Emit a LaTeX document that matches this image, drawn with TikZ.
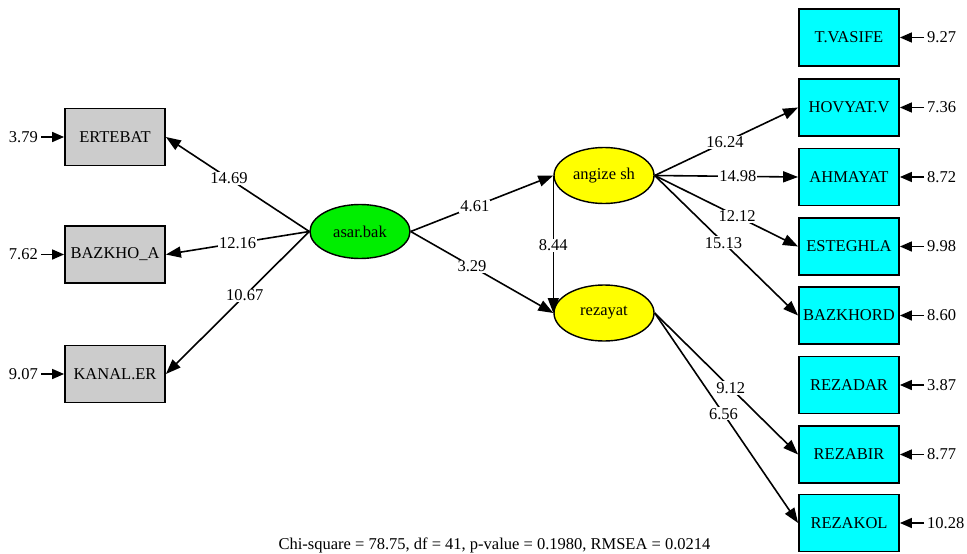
\documentclass[tikz,border=0pt]{standalone}
\usepackage{fontspec}
\setmainfont{Liberation Serif}
\usetikzlibrary{arrows.meta,shapes.geometric}
\definecolor{boxgray}{RGB}{204,204,204}
\definecolor{boxcyan}{RGB}{0,255,255}
\definecolor{latgreen}{RGB}{0,238,0}
\definecolor{latyellow}{RGB}{255,255,0}
\newcommand{\labfont}{\fontsize{16.5}{19}\selectfont}
\tikzset{
  obsbox/.style={draw=black, line width=1.8pt, minimum width=100pt, minimum height=57pt, inner sep=0pt, font=\labfont},
  latent/.style={ellipse, draw=black, line width=1.4pt, minimum width=100pt, minimum height=54pt, inner sep=0pt, font=\labfont},
  errlab/.style={inner sep=2pt, font=\labfont},
  edgelab/.style={fill=white, inner sep=1pt, font=\labfont},
  path/.style={line width=1.6pt, -{Triangle[length=15pt,width=11pt]}},
  errarrow/.style={line width=1.6pt, -{Triangle[length=12pt,width=10pt]}, shorten <=1pt}
}
\begin{document}
\begin{tikzpicture}[x=1pt,y=-1pt]
\useasboundingbox (0,0) rectangle (967,554);
% left observed
\node[obsbox, fill=boxgray] (ert) at (115,137) {ERTEBAT};
\node[obsbox, fill=boxgray] (baz) at (115,254.5) {BAZKHO\_A};
\node[obsbox, fill=boxgray] (kan) at (115,374) {KANAL.ER};
% latents
\node[latent, fill=latgreen] (asar) at (360,231.5) {asar.bak};
\node[latent, fill=latyellow, minimum height=56pt] (ang) at (604,175.5) {angize sh};
\node[latent, fill=latyellow, minimum height=56pt] (rez) at (604,313) {rezayat};
% right observed
\node[obsbox, fill=boxcyan] (tva) at (849,37.5) {T.VASIFE};
\node[obsbox, fill=boxcyan] (hov) at (849,107.5) {HOVYAT.V};
\node[obsbox, fill=boxcyan] (ahm) at (849,177) {AHMAYAT};
\node[obsbox, fill=boxcyan] (est) at (849,246.5) {ESTEGHLA};
\node[obsbox, fill=boxcyan] (bzk) at (849,315.5) {BAZKHORD};
\node[obsbox, fill=boxcyan] (rzd) at (849,385) {REZADAR};
\node[obsbox, fill=boxcyan] (rzb) at (849,454.5) {REZABIR};
\node[obsbox, fill=boxcyan] (rzk) at (849,523) {REZAKOL};
% left error terms
\node[errlab, anchor=east] (e1) at (40,137) {3.79};
\node[errlab, anchor=east] (e2) at (40,254.5) {7.62};
\node[errlab, anchor=east] (e3) at (40,374) {9.07};
\draw[errarrow] (e1) -- (ert);
\draw[errarrow] (e2) -- (baz);
\draw[errarrow] (e3) -- (kan);
% right error terms
\node[errlab, anchor=west] (r1) at (925,37.5) {9.27};
\node[errlab, anchor=west] (r2) at (925,107.5) {7.36};
\node[errlab, anchor=west] (r3) at (925,177) {8.72};
\node[errlab, anchor=west] (r4) at (925,246.5) {9.98};
\node[errlab, anchor=west] (r5) at (925,315.5) {8.60};
\node[errlab, anchor=west] (r6) at (925,385) {3.87};
\node[errlab, anchor=west] (r7) at (925,454.5) {8.77};
\node[errlab, anchor=west] (r8) at (925,523) {10.28};
\foreach \a/\b in {r1/tva,r2/hov,r3/ahm,r4/est,r5/bzk,r6/rzd,r7/rzb,r8/rzk}
  \draw[errarrow] (\a) -- (\b);
% structural paths
\draw[path] (asar.west) -- node[edgelab, pos=0.56] {14.69} (ert.east);
\draw[path] (asar.west) -- node[edgelab, pos=0.50] {12.16} (baz.east);
\draw[path] (asar.west) -- node[edgelab, pos=0.45] {10.67} (kan.east);
\draw[path] (asar.east) -- node[edgelab, pos=0.45] {4.61} (ang.west);
\draw[path] (asar.east) -- node[edgelab, pos=0.43] {3.29} (rez.west);
\draw[path] (ang.west) -- node[edgelab, pos=0.51] {8.44} (rez.west);
\draw[path] (ang.east) -- node[edgelab, pos=0.49] {16.24} (hov.west);
\draw[path] (ang.east) -- node[edgelab, pos=0.58] {14.98} (ahm.west);
\draw[path] (ang.east) -- node[edgelab, pos=0.575] {12.12} (est.west);
\draw[path] (ang.east) -- node[edgelab, pos=0.48] {15.13} (bzk.west);
\draw[path] (rez.east) -- node[edgelab, pos=0.53] {9.12} (rzb.west);
\draw[path] (rez.east) -- node[edgelab, pos=0.48] {6.56} (rzk.west);
% fit line
\node[font=\labfont] (fit) at (494.5,545) {Chi-square = 78.75, df = 41, p-value = 0.1980, RMSEA = 0.0214};
\end{tikzpicture}
\end{document}
